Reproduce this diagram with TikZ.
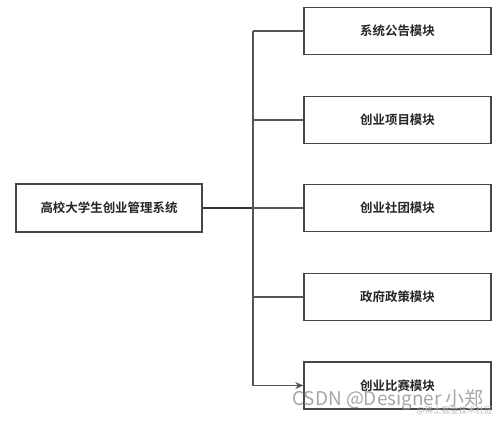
\documentclass[tikz,border=0pt]{standalone}
\usepackage{fontspec}
\usepackage{xcolor}
\usepackage{tikz}
\usetikzlibrary{
    positioning,
    arrows.meta
}
\newfontfamily\cjkbold{Noto Sans CJK SC Bold}
\newfontfamily\cjk{Noto Sans CJK SC}
\definecolor{boxGray}{RGB}{70, 70, 70}
\definecolor{lineGray}{RGB}{85, 85, 85}
\definecolor{markGray}{RGB}{150, 150, 150}

\tikzset{
    modbox/.style={draw=boxGray, line width=1.4bp, minimum width=187bp, minimum height=47bp,
        inner sep=0pt, font=\cjkbold\fontsize{12.5}{14}\selectfont, text=black!85},
    link/.style={draw=lineGray, line width=1.3bp}
}

\begin{document}
\begin{tikzpicture}[x=1bp, y=-1bp, >={Stealth[length=8bp, width=7bp]}]
                \useasboundingbox (0,0) rectangle (499,420);
                
                \node[modbox, minimum width=186bp, minimum height=48bp] (sys) at (109,208) {高校大学生创业管理系统};
                
                \node[modbox] (notice) at (397.5,31) {系统公告模块};
                \node[modbox] (project) at (397.5,120) {创业项目模块};
                \node[modbox] (club) at (397.5,208) {创业社团模块};
                \node[modbox] (policy) at (397.5,297) {政府政策模块};
                \node[modbox] (contest) at (397.5,385.5) {创业比赛模块};
                
                \coordinate (J) at (253,208);
                
                \draw[link, line width=2bp, draw=black!80] (sys.east) -- (J);
                \draw[link] (J |- notice) -- (J |- contest);
                \draw[link] (J |- notice) -- (notice.west);
                \draw[link] (J |- project) -- (project.west);
                \draw[link] (J) -- (club.west);
                \draw[link] (J |- policy) -- (policy.west);
                \draw[link, ->] (J |- contest) -- (contest.west);
                
                % watermark
                \node[text=markGray, font=\cjk\fontsize{19}{20}\selectfont, opacity=0.85] (mark) at (388,400) {CSDN @Designer 小郑};
                \node[text=markGray!70, font=\cjk\fontsize{8.5}{9}\selectfont, anchor=east] (mark2) at (496,411) {@稀土掘金技术社区};
            \end{tikzpicture}
\end{document}
